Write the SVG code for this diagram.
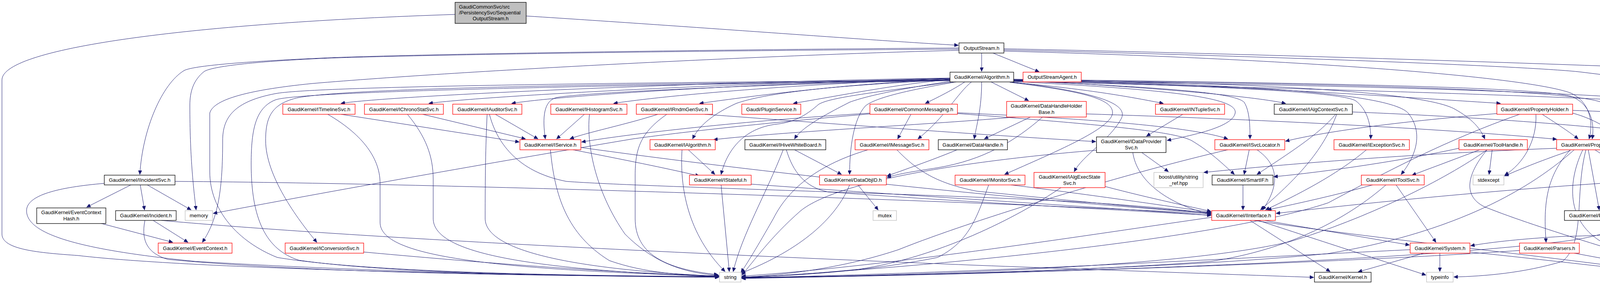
<svg xmlns="http://www.w3.org/2000/svg" width="4863" height="728" viewBox="0 0 4863 728">
<defs>
<marker id="a" markerWidth="11" markerHeight="9" refX="10" refY="4.5" orient="auto" markerUnits="userSpaceOnUse"><path d="M0,0 L10,4.5 L0,9 z" fill="#191970" stroke="#191970" stroke-width="1"/></marker>
<style>
text{font-family:"Liberation Sans",Arial,Helvetica,sans-serif;font-size:13px;fill:#000;text-anchor:middle}
.r rect{fill:#fff;stroke:#ff0000;stroke-width:1.3}
.k rect{fill:#fff;stroke:#000;stroke-width:1.3}
.g rect{fill:#fff;stroke:#bfbfbf;stroke-width:1.3}
.t rect{fill:#bfbfbf;stroke:#000;stroke-width:1.3}
.e path{fill:none;stroke:#191970;stroke-width:1;marker-end:url(#a)}
</style>
</defs>
<rect x="0" y="0" width="4863" height="728" fill="#fff"/>
<g id="edges" class="e">
<path d="M1347,41 C1800,70 2250,105 2453,116"/>
<path d="M1165,37 C520,58 5,120 5,205 L5,600 C5,640 100,648 200,655 C500,690 1300,706 1840,710"/>
<path d="M2513,136 L2513,183"/>
<path d="M2542,136 L2660,184"/>
<path d="M2455,123 C1800,127 1000,140 820,149 C600,159 490,170 471,181 C415,215 365,330 358,447"/>
<path d="M2455,126 C1800,129 1000,142 820,150 C650,158 545,170 523,183 C495,205 486,235 486,270 C486,400 495,480 502,538"/>
<path d="M2455,129 C2000,140 1200,180 800,214 C620,232 545,258 537,290 L537,440 C537,540 610,620 710,660 C950,700 1500,707 1840,709"/>
<path d="M2570,125 C3300,140 4200,170 4668,192"/>
<path d="M2570,128 C3300,145 3950,172 4050,185 C4350,222 4620,250 4632,290 L4632,560 C4632,650 4500,690 4384,706"/>
<path d="M2570,131 C3300,150 3900,195 4020,238 C4070,260 4080,315 4068,356"/>
<path d="M2432,200 C1800,210 1000,245 873,265"/>
<path d="M2432,201 C1900,212 1250,245 1098,265"/>
<path d="M2432,202 C1950,213 1450,243 1310,265"/>
<path d="M2432,202 C2050,214 1700,245 1571,265"/>
<path d="M2432,203 C2150,215 1900,250 1791,265"/>
<path d="M2432,204 C2300,215 2150,245 2031,265"/>
<path d="M2470,210 C2440,230 2400,250 2369,265"/>
<path d="M2432,205 C2000,215 1500,236 1425,250 C1392,258 1388,300 1396,356"/>
<path d="M2432,205 C2100,220 1950,242 1885,265 C1830,290 1790,320 1773,356"/>
<path d="M2440,210 C2250,235 2120,250 2095,268 C2070,290 2040,312 1990,318 C1900,328 1860,390 1846,447"/>
<path d="M2436,208 C2320,225 2220,245 2175,262 C2100,300 2050,330 2034,356"/>
<path d="M2487,210 C2450,240 2420,300 2350,356"/>
<path d="M2448,210 C2330,230 2240,250 2215,272 C2185,305 2175,380 2175,447"/>
<path d="M2513,210 C2513,280 2500,320 2494,356"/>
<path d="M2537,210 L2633,258"/>
<path d="M2590,211 C2800,230 2900,250 2978,265"/>
<path d="M2585,211 C2780,235 2850,255 2848,290 C2845,330 2700,390 2572,447"/>
<path d="M2590,210 C2820,238 2890,268 2870,305 C2840,360 2770,400 2750,440"/>
<path d="M2595,209 C3000,230 3170,250 3162,290 C3155,325 3060,345 2988,360"/>
<path d="M2595,207 C3000,225 3160,238 3185,262 C3200,285 3200,330 3200,356"/>
<path d="M2595,206 C2900,220 3200,245 3291,265"/>
<path d="M2595,206 C3100,220 3430,235 3470,258 C3500,280 3510,320 3509,356"/>
<path d="M2595,205 C3200,215 3560,240 3605,290 C3645,340 3625,400 3587,447"/>
<path d="M2595,204 C3300,213 3650,240 3723,279 C3770,305 3790,330 3801,356"/>
<path d="M2595,204 C3200,220 3600,250 3841,265"/>
<path d="M2595,203 C3300,212 3950,222 4025,248 C4075,270 4082,320 4076,356"/>
<path d="M2595,205 C3400,214 4000,228 4100,262 C4180,300 4205,380 4208,447"/>
<path d="M2781,292 C3200,305 3700,330 3985,357"/>
<path d="M2432,206 C1500,216 900,226 765,250 C695,265 680,300 680,360 C680,450 760,560 811,621"/>
<path d="M2432,205 C1500,213 800,222 705,240 C600,260 570,300 570,360 C570,480 560,560 518,621"/>
<path d="M2432,207 C1400,220 760,236 705,256 C655,276 643,330 643,420 C643,560 680,640 765,667 C1000,702 1500,708 1840,711"/>
<path d="M2595,208 C3500,232 4450,255 4560,292 C4585,310 4580,350 4580,400 L4580,580 C4580,650 4480,690 4384,704"/>
<path d="M2595,207 C3500,218 4200,240 4330,268 C4450,295 4520,380 4555,425 C4590,470 4560,500 4400,560 C4250,600 4100,604 4000,606 C3900,612 3820,620 3765,630"/>
<path d="M873,293 L1329,364"/>
<path d="M839,293 C920,340 973,400 973,470 L973,570 C973,650 1200,690 1840,708"/>
<path d="M1082,293 L1345,356"/>
<path d="M1043,293 C1090,350 1109,400 1109,460 L1109,560 C1109,640 1300,690 1840,709"/>
<path d="M1268,293 L1377,356"/>
<path d="M1247,293 C1243,380 1242,450 1242,560 C1242,640 1450,690 1840,708"/>
<path d="M1253,293 C1270,360 1320,440 1450,465 C1650,480 2500,500 2800,520 C2950,530 3050,540 3100,548"/>
<path d="M1496,293 L1425,356"/>
<path d="M1509,293 C1500,380 1530,500 1600,600 C1680,680 1760,700 1840,706"/>
<path d="M1684,293 C1600,320 1500,340 1459,356"/>
<path d="M1707,293 C1640,340 1626,380 1626,450 L1626,560 C1626,650 1700,690 1838,704"/>
<path d="M1804,293 C2100,315 2500,345 2805,363"/>
<path d="M2332,293 L2298,356"/>
<path d="M2227,290 C1900,310 1620,342 1489,364"/>
<path d="M2227,292 C1900,320 1700,345 1620,356 C1300,410 900,480 546,547"/>
<path d="M2451,291 C2800,318 3000,335 3050,360 C3100,390 3130,420 3160,447"/>
<path d="M2451,289 C2800,305 3050,325 3143,356"/>
<path d="M2638,300 L2520,356"/>
<path d="M2600,300 C2400,318 2000,338 1827,358"/>
<path d="M2669,300 C2600,360 2520,410 2400,430 C2350,438 2300,445 2271,455"/>
<path d="M3028,293 L2935,349"/>
<path d="M3419,293 C3380,340 3320,380 3218,447"/>
<path d="M3422,293 C3390,380 3330,450 3227,538"/>
<path d="M3462,287 C3800,300 4180,330 4243,348 C4320,400 4345,460 4350,540 L4355,696"/>
<path d="M4026,290 C4100,310 4180,360 4203,447"/>
<path d="M3948,293 C3990,320 4020,340 4040,356"/>
<path d="M3932,293 C3935,360 3900,420 3852,449"/>
<path d="M3833,291 C3600,310 3400,335 3291,362"/>
<path d="M4026,283 C4400,295 4600,330 4605,420 L4605,560 C4605,650 4500,690 4384,708"/>
<path d="M3890,293 C3700,360 3550,440 3400,520 C3100,620 2300,690 1899,712"/>
<path d="M1467,384 C1600,410 1700,430 1790,451"/>
<path d="M1409,384 C1420,500 1450,600 1560,668 C1650,700 1750,706 1840,707"/>
<path d="M1487,378 C2000,450 2700,520 3100,546"/>
<path d="M1762,384 L1830,447"/>
<path d="M1746,384 C1740,480 1760,600 1856,696"/>
<path d="M2034,384 L2154,447"/>
<path d="M2005,384 C1960,500 1900,600 1877,696"/>
<path d="M2013,384 C2030,440 2060,480 2120,492 C2500,520 2900,540 3100,552"/>
<path d="M2222,384 C2100,420 2020,480 1980,560 C1940,630 1910,680 1897,698"/>
<path d="M2296,384 C2350,440 2400,470 2500,490 C2800,520 3000,540 3100,545"/>
<path d="M2450,384 C2400,405 2330,430 2271,451"/>
<path d="M2923,391 L2991,440"/>
<path d="M2900,391 C2910,460 2980,520 3100,550"/>
<path d="M2807,385 C2500,410 2150,460 2050,540 C1970,610 1930,670 1899,705"/>
<path d="M3198,384 L3185,447"/>
<path d="M3218,384 C3270,420 3280,470 3232,538"/>
<path d="M3143,384 C2900,440 2500,560 2300,640 C2150,690 2000,705 1899,711"/>
<path d="M3498,384 C3420,450 3320,500 3240,538"/>
<path d="M3788,384 L3615,449"/>
<path d="M3820,384 L3812,447"/>
<path d="M3735,380 C3600,410 3400,440 3261,453"/>
<path d="M3807,384 C3700,460 3500,560 3300,620 C3000,690 2300,705 1899,713"/>
<path d="M3807,384 C3760,440 3740,500 3800,530 C3950,590 4200,660 4322,700"/>
<path d="M4083,384 L4180,447"/>
<path d="M4066,384 L4094,538"/>
<path d="M4020,384 C3960,450 3950,520 3958,621"/>
<path d="M4020,386 C3950,410 3900,430 3852,451"/>
<path d="M3985,380 C3600,395 3300,420 3082,442"/>
<path d="M4030,384 C3900,500 3700,600 3400,650 C3000,690 2300,706 1899,714"/>
<path d="M4052,384 C4020,450 4000,560 4100,620 C4200,660 4280,690 4322,704"/>
<path d="M4060,384 C4030,500 4060,620 4000,670 C3900,700 3800,708 3722,710"/>
<path d="M335,474 L222,531"/>
<path d="M359,474 L370,538"/>
<path d="M377,474 L489,538"/>
<path d="M267,470 C150,480 68,500 68,540 C68,600 200,640 500,670 C1000,700 1500,708 1840,709"/>
<path d="M448,465 C1200,470 2600,520 3100,548"/>
<path d="M1846,474 L1867,696"/>
<path d="M1923,472 C2300,500 2800,530 3100,552"/>
<path d="M2196,474 L2248,538"/>
<path d="M2175,474 C2140,560 2050,640 1898,700"/>
<path d="M2531,474 C2500,560 2480,620 2400,660 C2200,700 2000,708 1899,710"/>
<path d="M2588,474 C2800,500 3000,530 3100,544"/>
<path d="M2716,481 C2600,560 2400,660 2200,690 C2050,705 1950,709 1899,710"/>
<path d="M2829,478 C2950,510 3050,530 3100,542"/>
<path d="M3182,474 L3182,538"/>
<path d="M3514,474 C3420,500 3330,520 3245,538"/>
<path d="M3574,474 L3676,621"/>
<path d="M3548,474 C3450,560 3300,640 3100,670 C2700,700 2200,708 1899,711"/>
<path d="M4195,474 L4116,538"/>
<path d="M4214,474 L4336,696"/>
<path d="M4128,468 C3800,490 3500,520 3267,547"/>
<path d="M4217,474 C4225,560 4150,600 4000,619 C3500,680 2400,706 1899,712"/>
<path d="M3237,565 L3608,628"/>
<path d="M3200,565 L3405,696"/>
<path d="M3221,565 L3650,705"/>
<path d="M3102,557 C2800,600 2300,680 1899,708"/>
<path d="M3210,565 C3500,610 4000,660 4322,708"/>
<path d="M3645,649 L3477,697"/>
<path d="M3686,649 L3686,696"/>
<path d="M3610,640 C3200,660 2500,700 1899,712"/>
<path d="M3763,646 C3950,665 4150,690 4322,706"/>
<path d="M4030,649 L4322,703"/>
<path d="M3890,642 C3500,670 2600,704 1899,713"/>
<path d="M392,565 L481,621"/>
<path d="M371,565 C360,620 380,650 430,665 C800,700 1400,708 1840,709"/>
<path d="M413,565 C800,600 1500,640 2500,680 C2900,695 3200,705 3363,711"/>
<path d="M256,572 L442,621"/>
<path d="M931,646 C1300,680 1600,700 1840,708"/>
</g>
<g id="n0" class="t"><rect x="1165" y="6" width="182" height="54"/><text x="1175" y="22" style="text-anchor:start">GaudiCommonSvc/src</text><text x="1175" y="37" style="text-anchor:start">/PersistencySvc/Sequential</text><text x="1256" y="52">OutputStream.h</text></g>
<g id="n1" class="k"><rect x="2455" y="110" width="115" height="26"/><text x="2512.5" y="128">OutputStream.h</text></g>
<g id="n2" class="k"><rect x="2432" y="185" width="163" height="25"/><text x="2513.5" y="202">GaudiKernel/Algorithm.h</text></g>
<g id="n3" class="r"><rect x="2619" y="185" width="149" height="25"/><text x="2693.5" y="202">OutputStreamAgent.h</text></g>
<g id="n4" class="k"><rect x="4670" y="185" width="189" height="25"/><text x="4764.5" y="202">GaudiKernel/IDataSelector.h</text></g>
<g id="n5" class="r"><rect x="724" y="267" width="185" height="26"/><text x="816.5" y="285">GaudiKernel/ITimelineSvc.h</text></g>
<g id="n6" class="r"><rect x="933" y="267" width="202" height="26"/><text x="1034" y="285">GaudiKernel/IChronoStatSvc.h</text></g>
<g id="n7" class="r"><rect x="1159" y="267" width="177" height="26"/><text x="1247.5" y="285">GaudiKernel/IAuditorSvc.h</text></g>
<g id="n8" class="r"><rect x="1410" y="267" width="195" height="26"/><text x="1507.5" y="285">GaudiKernel/IHistogramSvc.h</text></g>
<g id="n9" class="r"><rect x="1629" y="267" width="195" height="26"/><text x="1726.5" y="285">GaudiKernel/IRndmGenSvc.h</text></g>
<g id="n10" class="r"><rect x="1899" y="267" width="151" height="26"/><text x="1974.5" y="285">Gaudi/PluginService.h</text></g>
<g id="n11" class="r"><rect x="2227" y="267" width="224" height="26"/><text x="2339" y="285">GaudiKernel/CommonMessaging.h</text></g>
<g id="n12" class="r"><rect x="2577" y="260" width="204" height="40"/><text x="2679" y="276">GaudiKernel/DataHandleHolder</text><text x="2679" y="292">Base.h</text></g>
<g id="n13" class="r"><rect x="2958" y="267" width="177" height="26"/><text x="3046.5" y="285">GaudiKernel/INTupleSvc.h</text></g>
<g id="n14" class="k"><rect x="3262" y="267" width="200" height="26"/><text x="3362" y="285">GaudiKernel/IAlgContextSvc.h</text></g>
<g id="n15" class="r"><rect x="3832" y="267" width="194" height="26"/><text x="3929" y="285">GaudiKernel/PropertyHolder.h</text></g>
<g id="n16" class="r"><rect x="1331" y="358" width="156" height="26"/><text x="1409" y="376">GaudiKernel/IService.h</text></g>
<g id="n17" class="r"><rect x="1664" y="358" width="167" height="26"/><text x="1747.5" y="376">GaudiKernel/IAlgorithm.h</text></g>
<g id="n18" class="k"><rect x="1907" y="358" width="207" height="26"/><text x="2010.5" y="376">GaudiKernel/IHiveWhiteBoard.h</text></g>
<g id="n19" class="r"><rect x="2189" y="358" width="189" height="26"/><text x="2283.5" y="376">GaudiKernel/IMessageSvc.h</text></g>
<g id="n20" class="k"><rect x="2402" y="358" width="177" height="26"/><text x="2490.5" y="376">GaudiKernel/DataHandle.h</text></g>
<g id="n21" class="k"><rect x="2807" y="351" width="178" height="40"/><text x="2896" y="367">GaudiKernel/IDataProvider</text><text x="2896" y="383">Svc.h</text></g>
<g id="n22" class="r"><rect x="3110" y="358" width="179" height="26"/><text x="3199.5" y="376">GaudiKernel/ISvcLocator.h</text></g>
<g id="n23" class="r"><rect x="3415" y="358" width="193" height="26"/><text x="3511.5" y="376">GaudiKernel/IExceptionSvc.h</text></g>
<g id="n24" class="r"><rect x="3735" y="358" width="175" height="26"/><text x="3822.5" y="376">GaudiKernel/ToolHandle.h</text></g>
<g id="n25" class="r"><rect x="3985" y="358" width="158" height="26"/><text x="4064" y="376">GaudiKernel/Property.h</text></g>
<g id="n26" class="k"><rect x="267" y="449" width="181" height="25"/><text x="357.5" y="466">GaudiKernel/IIncidentSvc.h</text></g>
<g id="n27" class="r"><rect x="1765" y="449" width="158" height="25"/><text x="1844" y="466">GaudiKernel/IStateful.h</text></g>
<g id="n28" class="r"><rect x="2098" y="449" width="171" height="25"/><text x="2183.5" y="466">GaudiKernel/DataObjID.h</text></g>
<g id="n29" class="r"><rect x="2445" y="449" width="179" height="25"/><text x="2534.5" y="466">GaudiKernel/IMonitorSvc.h</text></g>
<g id="n30" class="r"><rect x="2647" y="442" width="182" height="39"/><text x="2738" y="458">GaudiKernel/IAlgExecState</text><text x="2738" y="474">Svc.h</text></g>
<g id="n31" class="g"><rect x="2954" y="442" width="126" height="39"/><text x="3017" y="458">boost/utility/string</text><text x="3017" y="474">_ref.hpp</text></g>
<g id="n32" class="k"><rect x="3103" y="449" width="156" height="25"/><text x="3181" y="466">GaudiKernel/SmartIF.h</text></g>
<g id="n33" class="r"><rect x="3485" y="449" width="161" height="25"/><text x="3565.5" y="466">GaudiKernel/IToolSvc.h</text></g>
<g id="n34" class="g"><rect x="3771" y="449" width="79" height="25"/><text x="3810.5" y="466">stdexcept</text></g>
<g id="n35" class="r"><rect x="4128" y="449" width="162" height="25"/><text x="4209" y="466">GaudiKernel/IProperty.h</text></g>
<g id="n36" class="k"><rect x="94" y="533" width="177" height="40"/><text x="182.5" y="549">GaudiKernel/EventContext</text><text x="182.5" y="565">Hash.h</text></g>
<g id="n37" class="k"><rect x="296" y="540" width="155" height="25"/><text x="373.5" y="557">GaudiKernel/Incident.h</text></g>
<g id="n38" class="g"><rect x="474" y="540" width="70" height="25"/><text x="509" y="557">memory</text></g>
<g id="n39" class="g"><rect x="2235" y="540" width="60" height="25"/><text x="2265" y="557">mutex</text></g>
<g id="n40" class="r"><rect x="3102" y="540" width="163" height="25"/><text x="3183.5" y="557">GaudiKernel/IInterface.h</text></g>
<g id="n41" class="k"><rect x="4005" y="540" width="184" height="25"/><text x="4097" y="557">GaudiKernel/PropertyFwd.h</text></g>
<g id="n42" class="r"><rect x="405" y="623" width="189" height="26"/><text x="499.5" y="641">GaudiKernel/EventContext.h</text></g>
<g id="n43" class="r"><rect x="730" y="623" width="201" height="26"/><text x="830.5" y="641">GaudiKernel/IConversionSvc.h</text></g>
<g id="n44" class="r"><rect x="3610" y="623" width="153" height="26"/><text x="3686.5" y="641">GaudiKernel/System.h</text></g>
<g id="n45" class="r"><rect x="3890" y="623" width="153" height="26"/><text x="3966.5" y="641">GaudiKernel/Parsers.h</text></g>
<g id="n46" class="g"><rect x="1842" y="698" width="55" height="25"/><text x="1869.5" y="715">string</text></g>
<g id="n47" class="k"><rect x="3365" y="698" width="145" height="25"/><text x="3437.5" y="715">GaudiKernel/Kernel.h</text></g>
<g id="n48" class="g"><rect x="3652" y="698" width="68" height="25"/><text x="3686" y="715">typeinfo</text></g>
<g id="n49" class="g"><rect x="4324" y="698" width="58" height="25"/><text x="4353" y="715">vector</text></g>
</svg>
